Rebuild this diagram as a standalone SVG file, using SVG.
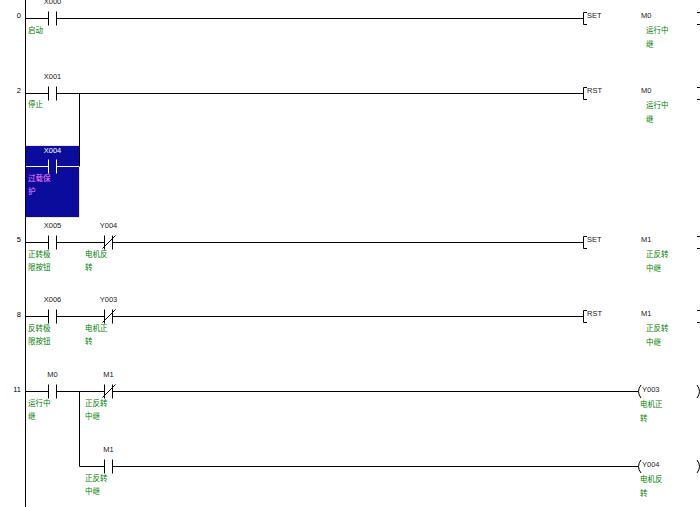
<svg xmlns="http://www.w3.org/2000/svg" width="700" height="507" viewBox="0 0 700 507">
<defs>
<style>
.w{stroke:#000;stroke-width:1;fill:none}
.ww{stroke:#fff;stroke-width:1;fill:none}
.n{font-family:"Liberation Sans",Arial,sans-serif;font-size:7.5px;fill:#222}
.nw{font-family:"Liberation Sans",Arial,sans-serif;font-size:7.5px;fill:#fff}
.num{font-family:"Liberation Sans",Arial,sans-serif;font-size:7.5px;fill:#000;text-anchor:end}
.c{font-family:"Noto Sans CJK SC","Noto Sans CJK JP",sans-serif;font-size:7.5px;fill:#008000}
.cp{font-family:"Noto Sans CJK SC","Noto Sans CJK JP",sans-serif;font-size:7.5px;fill:#ff80ff}
.mid{text-anchor:middle}
</style>
</defs>
<rect width="700" height="507" fill="#fff"/>

<g id="rungnumbers">
<text class="num" x="21" y="18">0</text>
<text class="num" x="21" y="93">2</text>
<text class="num" x="21" y="242">5</text>
<text class="num" x="21" y="317">8</text>
<text class="num" x="21" y="392">11</text>
</g>

<g id="X004-box">
<rect x="25.5" y="145.5" width="54" height="72" fill="#0c0c9c" stroke="#e8e8c8" stroke-width="1"/>
<path class="ww" d="M25.5,166.5H48.5M56.5,166.5H79.5M48.5,159.5V173.5M56.5,159.5V173.5"/>
<text class="nw mid" x="52.5" y="153">X004</text>
<text class="cp" x="28" y="181">过载保</text>
<text class="cp" x="28" y="194">护</text>
</g>

<g id="connectors">
<path class="w" d="M25.5,0V507"/>
<path class="w" d="M25.5,18.5H48.5M56.5,18.5H583"/>
<path class="w" d="M25.5,93.5H48.5M56.5,93.5H583M79.5,93.5V166.5"/>
<path class="w" d="M25.5,242.5H48.5M56.5,242.5H104.5M112.5,242.5H583"/>
<path class="w" d="M25.5,316.5H48.5M56.5,316.5H104.5M112.5,316.5H583"/>
<path class="w" d="M25.5,391.5H48.5M56.5,391.5H104.5M112.5,391.5H638"/>
<path class="w" d="M79.5,391.5V466.5H104.5M112.5,466.5H638"/>
</g>

<g id="X000">
<path class="w" d="M48.5,11.5V25.5M56.5,11.5V25.5"/>
<text class="n mid" x="52.5" y="4">X000</text>
<text class="c" x="28" y="33">启动</text>
</g>
<g id="SET-M0">
<path class="w" d="M587,12.5H583.5V24.5H587"/>
<text class="n" x="587" y="18">SET</text>
<text class="n" x="641" y="18">M0</text>
<text class="c" x="646" y="33">运行中</text>
<text class="c" x="646" y="47">继</text>
<path class="w" d="M697,12.5H700.5V24.5H697"/>
</g>

<g id="X001">
<path class="w" d="M48.5,86.5V100.5M56.5,86.5V100.5"/>
<text class="n mid" x="52.5" y="79">X001</text>
<text class="c" x="28" y="107">停止</text>
</g>
<g id="RST-M0">
<path class="w" d="M587,87.5H583.5V99.5H587"/>
<text class="n" x="587" y="93">RST</text>
<text class="n" x="641" y="93">M0</text>
<text class="c" x="646" y="108">运行中</text>
<text class="c" x="646" y="122">继</text>
<path class="w" d="M697,87.5H700.5V99.5H697"/>
</g>

<g id="X005">
<path class="w" d="M48.5,235.5V249.5M56.5,235.5V249.5"/>
<text class="n mid" x="52.5" y="228">X005</text>
<text class="c" x="28" y="257">正转极</text>
<text class="c" x="28" y="270">限按钮</text>
</g>
<g id="Y004-nc">
<path class="w" d="M104.5,235.5V249.5M112.5,235.5V249.5M102.5,248.5L115.5,235.5"/>
<text class="n mid" x="108.5" y="228">Y004</text>
<text class="c" x="85" y="257">电机反</text>
<text class="c" x="85" y="270">转</text>
</g>
<g id="SET-M1">
<path class="w" d="M587,236.5H583.5V248.5H587"/>
<text class="n" x="587" y="242">SET</text>
<text class="n" x="641" y="242">M1</text>
<text class="c" x="646" y="257">正反转</text>
<text class="c" x="646" y="271">中继</text>
<path class="w" d="M697,236.5H700.5V248.5H697"/>
</g>

<g id="X006">
<path class="w" d="M48.5,309.5V323.5M56.5,309.5V323.5"/>
<text class="n mid" x="52.5" y="302">X006</text>
<text class="c" x="28" y="331">反转极</text>
<text class="c" x="28" y="344">限按钮</text>
</g>
<g id="Y003-nc">
<path class="w" d="M104.5,309.5V323.5M112.5,309.5V323.5M102.5,322.5L115.5,309.5"/>
<text class="n mid" x="108.5" y="302">Y003</text>
<text class="c" x="85" y="331">电机正</text>
<text class="c" x="85" y="344">转</text>
</g>
<g id="RST-M1">
<path class="w" d="M587,310.5H583.5V322.5H587"/>
<text class="n" x="587" y="316">RST</text>
<text class="n" x="641" y="316">M1</text>
<text class="c" x="646" y="331">正反转</text>
<text class="c" x="646" y="345">中继</text>
<path class="w" d="M697,310.5H700.5V322.5H697"/>
</g>

<g id="M0">
<path class="w" d="M48.5,384.5V398.5M56.5,384.5V398.5"/>
<text class="n mid" x="52.5" y="377">M0</text>
<text class="c" x="28" y="406">运行中</text>
<text class="c" x="28" y="419">继</text>
</g>
<g id="M1-nc">
<path class="w" d="M104.5,384.5V398.5M112.5,384.5V398.5M102.5,397.5L115.5,384.5"/>
<text class="n mid" x="108.5" y="377">M1</text>
<text class="c" x="85" y="406">正反转</text>
<text class="c" x="85" y="419">中继</text>
</g>
<g id="Y003-coil">
<path class="w" d="M641,385 Q636,391.5 641,398"/>
<text class="n" x="642" y="392">Y003</text>
<text class="c" x="640" y="407">电机正</text>
<text class="c" x="640" y="421">转</text>
<path class="w" d="M697,385 Q702,391.5 697,398"/>
</g>

<g id="M1-no">
<path class="w" d="M104.5,459.5V473.5M112.5,459.5V473.5"/>
<text class="n mid" x="108.5" y="452">M1</text>
<text class="c" x="85" y="481">正反转</text>
<text class="c" x="85" y="494">中继</text>
</g>
<g id="Y004-coil">
<path class="w" d="M641,460 Q636,466.5 641,473"/>
<text class="n" x="642" y="467">Y004</text>
<text class="c" x="640" y="482">电机反</text>
<text class="c" x="640" y="496">转</text>
<path class="w" d="M697,460 Q702,466.5 697,473"/>
</g>
</svg>
